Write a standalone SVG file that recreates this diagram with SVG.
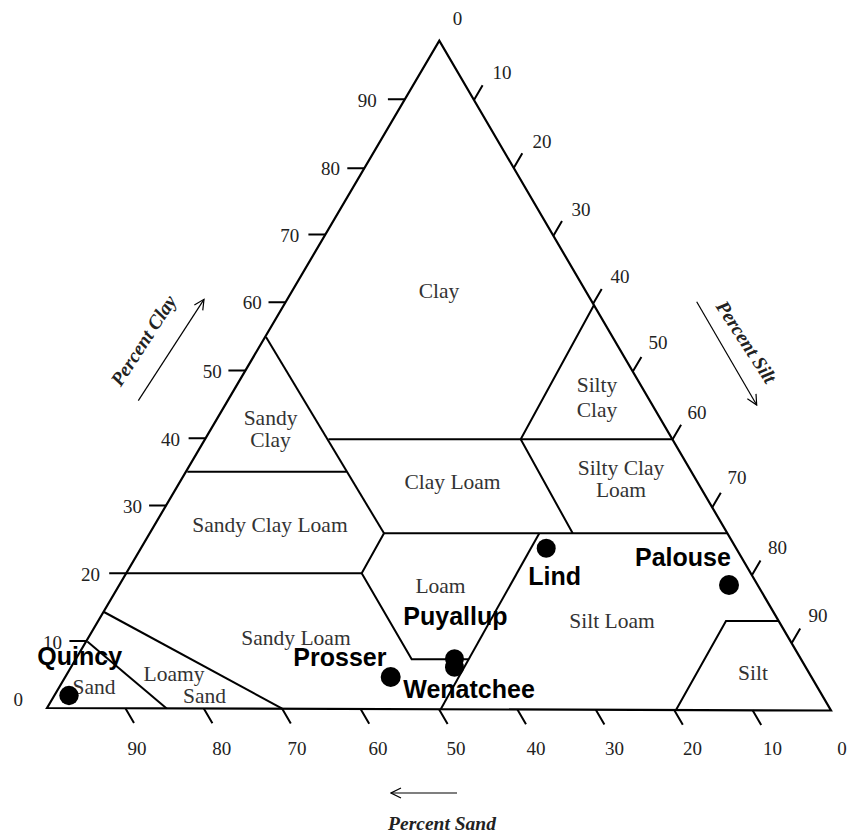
<svg xmlns="http://www.w3.org/2000/svg" width="848" height="834" viewBox="0 0 848 834">
<defs>
<marker id="open" markerWidth="12" markerHeight="12" refX="11" refY="6" orient="auto" markerUnits="userSpaceOnUse"><path d="M1,1 L11,6 L1,11" fill="none" stroke="#000" stroke-width="1.2"/></marker>
</defs>
<style>
.edge{fill:none;stroke:#000;stroke-width:2.2;stroke-linejoin:miter}
.bd{fill:none;stroke:#000;stroke-width:2}
.tick{stroke:#000;stroke-width:2}
.num{font-family:"Liberation Serif",serif;font-size:19px;fill:#222}
.reg{font-family:"Liberation Serif",serif;font-size:21.5px;fill:#333;text-anchor:middle}
.site{font-family:"Liberation Sans",Arial,sans-serif;font-size:25px;font-weight:bold;fill:#000}
.dot{fill:#000}
.axis{font-family:"Liberation Serif",serif;font-size:19.5px;font-style:italic;font-weight:bold;fill:#222;text-anchor:middle}
.arr{stroke:#000;stroke-width:1.2;fill:none;marker-end:url(#open)}
</style>
<rect width="848" height="834" fill="#fff"/>

<g id="triangle">
<path class="edge" d="M47,708 L439.3,40.7 L831,710.5 Z"/>
</g>

<g id="ticks">
<path class="tick" d="M69.4,641H86.4 M109.2,573.3H126.2 M149.1,505.5H166.1 M188.6,438.3H205.6 M228.4,370.5H245.4 M268.5,302.3H285.5 M308.4,234.5H325.4 M347.3,168.3H364.3 M387.9,99.3H404.9"/>
<path class="tick" d="M474,100l8.6,-14.7 M513.7,167.9l8.6,-14.7 M553.4,235.8l8.6,-14.7 M593.1,303.7l8.6,-14.7 M632.8,371.6l8.6,-14.7 M672.5,439.5l8.6,-14.7 M712.2,507.4l8.6,-14.7 M751.9,575.3l8.6,-14.7 M791.6,643.2l8.6,-14.7"/>
<path class="tick" d="M125.4,708.2l8.6,14.7 M203.8,708.5l8.6,14.7 M282.2,708.7l8.6,14.7 M360.6,709l8.6,14.7 M439,709.2l8.6,14.7 M517.4,709.5l8.6,14.7 M595.8,709.7l8.6,14.7 M674.2,710l8.6,14.7 M752.6,710.2l8.6,14.7"/>
</g>

<g id="clay-scale" class="num" text-anchor="end">
<text x="23" y="706">0</text>
<text x="62" y="648.5">10</text>
<text x="100" y="580.5">20</text>
<text x="142" y="513">30</text>
<text x="180" y="446">40</text>
<text x="221.7" y="378">50</text>
<text x="261.7" y="308.5">60</text>
<text x="299.3" y="241.5">70</text>
<text x="340" y="175">80</text>
<text x="376.7" y="106.5">90</text>
</g>

<g id="silt-scale" class="num" text-anchor="middle">
<text x="457.5" y="25">0</text>
<text x="502" y="78.5">10</text>
<text x="542" y="147.5">20</text>
<text x="581" y="215.5">30</text>
<text x="620" y="282.5">40</text>
<text x="658" y="348.5">50</text>
<text x="697" y="418.5">60</text>
<text x="737" y="483.5">70</text>
<text x="777.5" y="553.5">80</text>
<text x="818" y="621.5">90</text>
</g>

<g id="sand-scale" class="num" text-anchor="middle">
<text x="137" y="755">90</text>
<text x="221.7" y="755">80</text>
<text x="297" y="755">70</text>
<text x="378" y="755">60</text>
<text x="456" y="755">50</text>
<text x="536" y="755">40</text>
<text x="614.5" y="755">30</text>
<text x="692.5" y="755">20</text>
<text x="772.5" y="755">10</text>
<text x="842" y="755">0</text>
</g>

<g id="boundaries">
<path class="bd" d="M266,337 L384,533.3"/>
<path class="bd" d="M328.5,439.3 H672.8"/>
<path class="bd" d="M594,305 L520.7,439.3 L572.7,533.3"/>
<path class="bd" d="M187.3,471.7 H346.7"/>
<path class="bd" d="M384,533.3 H727"/>
<path class="bd" d="M126.2,573.3 H361.7"/>
<path class="bd" d="M384,533.3 L361.7,573.3 L411.7,659.3 H468.4"/>
<path class="bd" d="M539.3,533.3 L440.7,709.2"/>
<path class="bd" d="M676,710 L726,621 H778.3"/>
<path class="bd" d="M104,612 L282.2,708.7"/>
<path class="bd" d="M87.3,641.5 L166.7,708.4"/>
</g>

<g id="region-labels" class="reg">
<g id="r-clay"><text x="439" y="298">Clay</text></g>
<g id="r-sandy-clay"><text x="270.5" y="424.5">Sandy</text><text x="270.5" y="446.5">Clay</text></g>
<g id="r-silty-clay"><text x="597" y="391.5">Silty</text><text x="597" y="416.5">Clay</text></g>
<g id="r-clay-loam"><text x="452.5" y="489">Clay Loam</text></g>
<g id="r-silty-clay-loam"><text x="621" y="475">Silty Clay</text><text x="621" y="497">Loam</text></g>
<g id="r-sandy-clay-loam"><text x="270" y="531.5">Sandy Clay Loam</text></g>
<g id="r-loam"><text x="440.5" y="593">Loam</text></g>
<g id="r-sandy-loam"><text x="296" y="645">Sandy Loam</text></g>
<g id="r-loamy-sand"><text x="174" y="681">Loamy</text><text x="204.5" y="703">Sand</text></g>
<g id="r-sand"><text x="94" y="694">Sand</text></g>
<g id="r-silt-loam"><text x="612" y="628">Silt Loam</text></g>
<g id="r-silt"><text x="753" y="680">Silt</text></g>
</g>

<g id="axis-titles">
<g id="ax-clay"><line class="arr" x1="138.3" y1="400.7" x2="204" y2="299.3"/><text class="axis" transform="translate(149,344) rotate(-57)">Percent Clay</text></g>
<g id="ax-silt"><line class="arr" x1="696.7" y1="301.7" x2="756.7" y2="405"/><text class="axis" transform="translate(740.8,345.5) rotate(57)">Percent Silt</text></g>
<g id="ax-sand"><line class="arr" x1="457" y1="793" x2="391" y2="793"/><text class="axis" x="442" y="830">Percent Sand</text></g>
</g>

<g id="sites">
<g id="quincy"><circle class="dot" cx="69" cy="695.5" r="9.7"/><text class="site" x="37.3" y="665">Quincy</text></g>
<g id="prosser"><circle class="dot" cx="390.7" cy="677" r="10"/><text class="site" x="293.3" y="666">Prosser</text></g>
<g id="puyallup"><circle class="dot" cx="454.5" cy="658.8" r="9.5"/><text class="site" x="403.3" y="625">Puyallup</text></g>
<g id="wenatchee"><circle class="dot" cx="454.5" cy="667.2" r="9.5"/><text class="site" x="403.3" y="698.3">Wenatchee</text></g>
<g id="lind"><circle class="dot" cx="546.2" cy="548.3" r="9.5"/><text class="site" x="528.3" y="585">Lind</text></g>
<g id="palouse"><circle class="dot" cx="729" cy="585" r="10"/><text class="site" x="635" y="566">Palouse</text></g>
</g>
</svg>
